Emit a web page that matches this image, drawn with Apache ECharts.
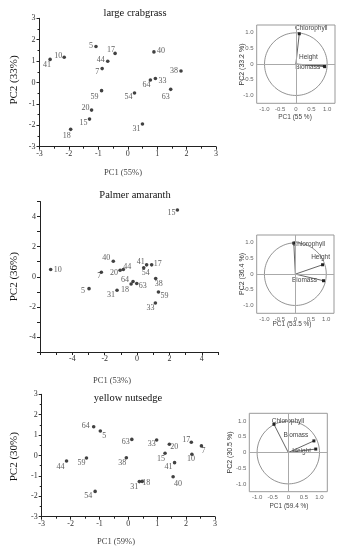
<!DOCTYPE html>
<html><head><meta charset="utf-8">
<script src="https://cdn.jsdelivr.net/npm/echarts@6/dist/echarts.min.js"></script>
<style>html,body{margin:0;padding:0;background:#fff}#c{width:349px;height:550px}</style>
</head><body><div id="c"></div>
<script>
// ---------- Data ----------
// Panel 1: large crabgrass
const crabIds = ['41','10','5','17','44','7','40','38','33','64','54','63','59','20','15','18','31'];
const crabPC1 = [-2.64,-2.16,-1.08,-0.43,-0.68,-0.87,0.89,1.81,0.94,0.77,0.23,1.46,-0.89,-1.23,-1.30,-1.94,0.50];
const crabPC2 = [1.08,1.18,1.68,1.36,0.99,0.65,1.43,0.54,0.19,0.12,-0.49,-0.32,-0.38,-1.29,-1.71,-2.19,-1.94];
// Panel 2: Palmer amaranth
const palmIds = ['15','10','40','44','20','7','5','41','17','54','64','18','63','31','38','59','33'];
const palmPC1 = [2.49,-5.34,-1.47,-0.85,-1.05,-2.21,-2.97,0.59,0.90,0.41,-0.25,-0.37,-0.02,-1.24,1.15,1.32,1.13];
const palmPC2 = [4.44,0.48,1.03,0.48,0.43,0.30,-0.79,0.79,0.79,0.59,-0.32,-0.48,-0.45,-0.90,-0.12,-1.01,-1.74];
// Panel 3: yellow nutsedge
const nutIds = ['64','5','63','33','20','17','7','10','15','41','40','38','59','44','31','18','54'];
const nutPC1 = [-1.20,-0.97,0.12,0.98,1.42,2.18,2.53,2.20,1.27,1.60,1.55,-0.07,-1.45,-2.14,0.38,0.48,-1.15];
const nutPC2 = [1.41,1.20,0.79,0.76,0.55,0.65,0.47,0.06,0.11,-0.35,-1.04,-0.11,-0.12,-0.27,-1.28,-1.27,-1.76];
// Loadings (biplots)
const loadVars = [['Chlorophyll','Height','Biomass'],['Chlorophyll','Height','Biomass'],['Chlorophyll','Biomass','Height']];
const loadPC1 = [[0.11,0.91,0.92],[-0.05,0.88,0.91],[-0.46,0.82,0.88]];
const loadPC2 = [[0.97,-0.05,-0.08],[0.99,0.30,-0.21],[0.90,0.37,0.11]];
// Titles / axis names
const panelTitles = ['large crabgrass','Palmer amaranth','yellow nutsedge'];
const pc1Names = ['PC1 (55%)','PC1 (53%)','PC1 (59%)'];
const pc2Names = ['PC2 (33%)','PC2 (36%)','PC2 (30%)'];
const biPc1Names = ['PC1 (55 %)','PC1 (53.5 %)','PC1 (59.4 %)'];
const biPc2Names = ['PC2 (33.2 %)','PC2 (36.4 %)','PC2 (30.5 %)'];

// ---------- Label placement (style, not data) ----------
const crabOff = [[-3,6],[-6,-1],[-5,-1],[-4,-3],[-7,-1],[-5,3],[7,-1],[-7,0],[7,2],[-4,5],[-6,4],[-5,8],[-7,6],[-6,-2],[-6,4],[-4,7],[-6,5]];
const palmOff = [[-6,3],[7,0],[-7,-3],[4,-3],[-6,3],[-2,4],[-6,2],[-6,-3],[6,-1],[2,5],[-8,-2],[-6,6],[6,2],[-6,5],[3,5],[6,4],[-5,5]];
const nutOff = [[-8,-1],[4,5],[-6,3],[-5,4],[5,3],[-5,-2],[2,5],[-1,5],[-4,6],[-6,4],[5,7],[-4,5],[-5,5],[-6,6],[-5,5],[4,1],[-7,5]];
const biOff = [[[12,-6],[-16,-9],[-17,1]],[[15,1],[-2,-8],[-19,-1]],[[14,-3],[-18,-6],[-14,2]]];

const SERIF = 'Liberation Serif';
const SANS = 'Liberation Sans';

const mainGrids = [
  {left:39.5, top:18.3, width:176.5, height:128.4},
  {left:40, top:201.5, width:178, height:150.5},
  {left:41.7, top:394.3, width:173.3, height:122.4}
];
const biGrids = [
  {left:256.7, top:25, width:78.3, height:78.3},
  {left:256.7, top:235, width:77.3, height:78.3},
  {left:249.3, top:413.3, width:78, height:78.4}
];

const grid=[], xAxis=[], yAxis=[], series=[];

function mainAxis(type, gi, min, max, labelFn, minor){
  return {
    type:'value', gridIndex:gi, min:min, max:max, interval:1,
    axisLine:{show:true, onZero:false, lineStyle:{color:'#222', width:1}},
    axisTick:{show:true, inside:false, length:3, lineStyle:{color:'#222'}},
    minorTick:{show:minor, splitNumber:2, length:2, lineStyle:{color:'#222'}},
    splitLine:{show:false},
    axisLabel:{fontFamily:SERIF, fontSize:8, color:'#333', margin:type==='x'?3:4, formatter:labelFn}
  };
}
const allLab = v => String(v);
const evenLab = v => (Math.round(v)%2===0 && Math.abs(v)<=4) ? String(v) : '';

const panels = [
  {ids:crabIds, x:crabPC1, y:crabPC2, off:crabOff, xr:[-3,3], yr:[-3,3], xl:allLab, yl:allLab, minor:true},
  {ids:palmIds, x:palmPC1, y:palmPC2, off:palmOff, xr:[-6,5], yr:[-5,5], xl:evenLab, yl:evenLab, minor:false},
  {ids:nutIds, x:nutPC1, y:nutPC2, off:nutOff, xr:[-3,3], yr:[-3,3], xl:allLab, yl:allLab, minor:true}
];

panels.forEach((p,i)=>{
  grid.push(mainGrids[i]);
  xAxis.push(mainAxis('x', i, p.xr[0], p.xr[1], p.xl, p.minor));
  yAxis.push(mainAxis('y', i, p.yr[0], p.yr[1], p.yl, p.minor));
  series.push({
    type:'scatter', xAxisIndex:i, yAxisIndex:i, symbol:'circle', symbolSize:3.6,
    itemStyle:{color:'#111'},
    label:{show:true, position:'inside', formatter:'{b}', fontFamily:SERIF, fontSize:8, color:'#333'},
    data:p.ids.map((id,k)=>({name:id, value:[p.x[k], p.y[k]], label:{offset:p.off[k]}}))
  });
});

const biLab = v => {
  const r = Math.round(v*100)/100;
  if (Math.abs(r*2 - Math.round(r*2))>1e-6 || Math.abs(r)>1.01) return '';
  return r===0 ? '0' : r.toFixed(1);
};
const circlePts = [];
for (let a=0; a<=360; a+=4){ circlePts.push([Math.cos(a*Math.PI/180), Math.sin(a*Math.PI/180)]); }

for (let b=0;b<3;b++){
  const gi = 3+b;
  grid.push(Object.assign({show:true, borderColor:'#999', borderWidth:1, backgroundColor:'transparent'}, biGrids[b]));
  const ax = {
    type:'value', gridIndex:gi, min:-1.25, max:1.25, interval:0.25,
    axisLine:{show:false}, axisTick:{show:false}, splitLine:{show:false},
    axisLabel:{fontFamily:SANS, fontSize:6, color:'#666', margin:3, formatter:biLab, showMinLabel:true, showMaxLabel:true}
  };
  xAxis.push(Object.assign({}, ax));
  yAxis.push(Object.assign({}, ax, {axisLabel:Object.assign({}, ax.axisLabel, {margin:3})}));
  series.push({
    type:'line', xAxisIndex:gi, yAxisIndex:gi, data:circlePts, showSymbol:false, smooth:false, silent:true,
    lineStyle:{color:'#777', width:0.8},
    markLine:{symbol:'none', silent:true, label:{show:false}, lineStyle:{color:'#aaa', type:'solid', width:1},
      data:[{xAxis:0},{yAxis:0}]}
  });
  loadVars[b].forEach((nm,k)=>{
    series.push({
      type:'line', xAxisIndex:gi, yAxisIndex:gi, silent:true,
      lineStyle:{color:'#555', width:0.9}, itemStyle:{color:'#222'},
      showSymbol:true,
      data:[
        {value:[0,0], symbol:'none', label:{show:false}},
        {value:[loadPC1[b][k], loadPC2[b][k]], name:nm, symbol:'rect', symbolSize:3,
          label:{show:true, position:'inside', offset:biOff[b][k], formatter:nm, fontFamily:SANS, fontSize:6.5, color:'#444'}}
      ]
    });
  });
}

const titlePos = [[135,13],[135,195],[128,398]];
const pc1Pos = [[123,172.7],[112,380.7],[116,541.7]];
const pc2Pos = [[14,80],[14,276.7],[14,456.7]];
const biPc1Pos = [[295,117],[292,324.3],[289,506.7]];
const biPc2Pos = [[242.5,64.5],[242.5,274],[230.5,452.5]];

const graphic = [];
for (let i=0;i<3;i++){
  graphic.push({type:'text', x:titlePos[i][0], y:titlePos[i][1], style:{text:panelTitles[i], font:'10.5px "'+SERIF+'"', fill:'#111', align:'center', verticalAlign:'middle'}});
  graphic.push({type:'text', x:pc1Pos[i][0], y:pc1Pos[i][1], style:{text:pc1Names[i], font:'8.5px "'+SERIF+'"', fill:'#444', align:'center', verticalAlign:'middle'}});
  graphic.push({type:'text', x:pc2Pos[i][0], y:pc2Pos[i][1], rotation:Math.PI/2, style:{text:pc2Names[i], font:'11px "'+SERIF+'"', fill:'#111', align:'center', verticalAlign:'middle'}});
  graphic.push({type:'text', x:biPc1Pos[i][0], y:biPc1Pos[i][1], style:{text:biPc1Names[i], font:'6.5px "'+SANS+'"', fill:'#444', align:'center', verticalAlign:'middle'}});
  graphic.push({type:'text', x:biPc2Pos[i][0], y:biPc2Pos[i][1], rotation:Math.PI/2, style:{text:biPc2Names[i], font:'7px "'+SANS+'"', fill:'#333', align:'center', verticalAlign:'middle'}});
}

const chart = echarts.init(document.getElementById('c'), null, {renderer:'canvas'});
chart.setOption({animation:false, backgroundColor:'#fff', grid, xAxis, yAxis, series, graphic});
</script></body></html>
